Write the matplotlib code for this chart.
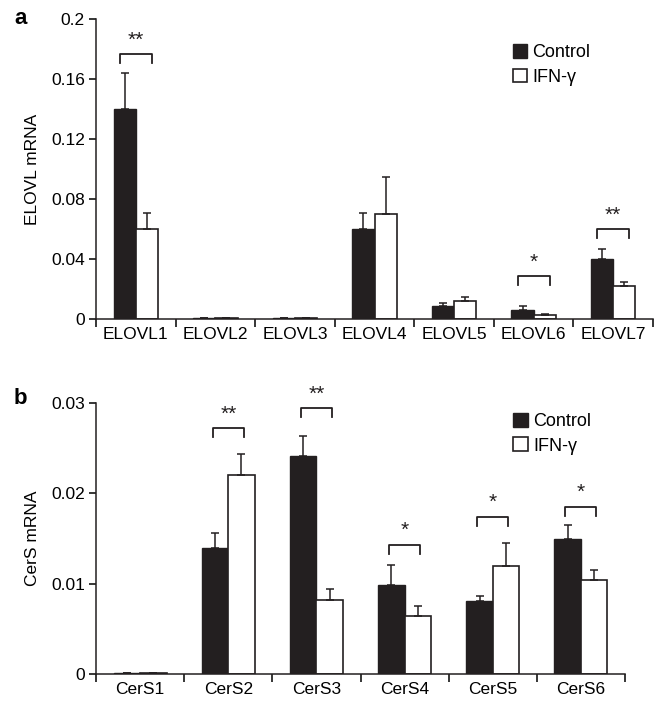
import numpy as np
import matplotlib
matplotlib.use("Agg")
import matplotlib.pyplot as plt
from matplotlib.patches import Patch

plt.rcParams["font.family"] = ["Liberation Sans", "DejaVu Sans"]

# panel a
elovl_genes = ["ELOVL1", "ELOVL2", "ELOVL3", "ELOVL4", "ELOVL5", "ELOVL6", "ELOVL7"]
elovl_ctrl = [0.140, 0.0006, 0.0006, 0.060, 0.009, 0.006, 0.040]
elovl_ctrl_err = [0.024, 0.0, 0.0, 0.011, 0.002, 0.0027, 0.007]
elovl_ifn = [0.060, 0.0006, 0.0006, 0.070, 0.012, 0.003, 0.022]
elovl_ifn_err = [0.011, 0.0, 0.0, 0.025, 0.0027, 0.0005, 0.0027]
# (category index, bracket height, stars)
elovl_sig = [(0, 0.1767, "**"), (5, 0.0287, "*"), (6, 0.060, "**")]

# panel b
cers_genes = ["CerS1", "CerS2", "CerS3", "CerS4", "CerS5", "CerS6"]
cers_ctrl = [0.0001, 0.0140, 0.0241, 0.0099, 0.0081, 0.0150]
cers_ctrl_err = [0.0, 0.0016, 0.0022, 0.0022, 0.0005, 0.0015]
cers_ifn = [0.0001, 0.0220, 0.0082, 0.0064, 0.0120, 0.0104]
cers_ifn_err = [0.0, 0.0024, 0.0012, 0.0011, 0.0025, 0.0011]
cers_sig = [(1, 0.0272, "**"), (2, 0.0294, "**"), (3, 0.0143, "*"),
            (4, 0.0174, "*"), (5, 0.0185, "*")]

dark = "#231f20"


def panel(ax, genes, ctrl, ctrl_err, ifn, ifn_err, sig, ymax, yticks, yticklabels,
          ylabel, width, bw, tick_h, star_off, leg_x, leg_y):
    x = np.arange(len(genes)) + 0.5
    zeros = np.zeros(len(genes))
    ekw = dict(ecolor=dark, elinewidth=1.1, capsize=2.8, capthick=1.1)
    ax.bar(x - width / 2, ctrl, width, color=dark, edgecolor=dark, linewidth=1,
           yerr=[zeros, ctrl_err], error_kw=ekw, label="Control", zorder=2)
    ax.bar(x + width / 2, ifn, width, color="white", edgecolor=dark, linewidth=1.2,
           yerr=[zeros, ifn_err], error_kw=ekw, label="IFN-\u03b3", zorder=2)

    for i, h, s in sig:
        cx = x[i]
        ax.plot([cx - bw / 2, cx - bw / 2, cx + bw / 2, cx + bw / 2],
                [h - tick_h, h, h, h - tick_h], color=dark, lw=1.3, clip_on=False)
        ax.text(cx, h + star_off, s, ha="center", va="center", fontsize=15, color=dark)

    ax.set_xlim(0, len(genes))
    ax.set_ylim(0, ymax)
    ax.set_xticks(np.arange(len(genes) + 1))
    ax.set_xticklabels([])
    ax.set_xticks(x, minor=True)
    ax.set_xticklabels(genes, minor=True, fontsize=12.5)
    ax.tick_params(axis="x", which="major", direction="out", length=6, width=1.1)
    ax.tick_params(axis="x", which="minor", length=0, pad=6)
    ax.set_yticks(yticks)
    ax.set_yticklabels(yticklabels, fontsize=12.5)
    ax.tick_params(axis="y", direction="out", length=5, width=1.1, pad=3)
    ax.set_ylabel(ylabel, fontsize=12.5, labelpad=8)
    for side in ["top", "right"]:
        ax.spines[side].set_visible(False)
    for side in ["left", "bottom"]:
        ax.spines[side].set_linewidth(1.1)
        ax.spines[side].set_color(dark)

    handles = [Patch(facecolor=dark, edgecolor=dark),
               Patch(facecolor="white", edgecolor=dark, linewidth=1.2)]
    ax.legend(handles, ["Control", "IFN-\u03b3"], loc="upper left",
              bbox_to_anchor=(leg_x, leg_y), frameon=False, fontsize=13,
              handlelength=0.8, handleheight=0.8, handletextpad=0.3,
              labelspacing=0.4, borderaxespad=0)


fig = plt.figure(figsize=(6.63, 7.05), dpi=100)
ax1 = fig.add_axes([96 / 663, 1 - 319 / 705, 557 / 663, 300 / 705])
ax2 = fig.add_axes([96 / 663, 1 - 674 / 705, 529 / 663, 271 / 705])

panel(ax1, elovl_genes, elovl_ctrl, elovl_ctrl_err, elovl_ifn, elovl_ifn_err, elovl_sig,
      0.2, [0, 0.04, 0.08, 0.12, 0.16, 0.2], ["0", "0.04", "0.08", "0.12", "0.16", "0.2"],
      "ELOVL mRNA", 0.28, 0.4, 0.006, 0.009, 0.735, 0.94)
panel(ax2, cers_genes, cers_ctrl, cers_ctrl_err, cers_ifn, cers_ifn_err, cers_sig,
      0.03, [0, 0.01, 0.02, 0.03], ["0", "0.01", "0.02", "0.03"],
      "CerS mRNA", 0.3, 0.35, 0.001, 0.0016, 0.775, 0.99)

fig.text(14 / 663, 1 - 18 / 705, "a", fontsize=16, fontweight="bold", va="center")
fig.text(14 / 663, 1 - 399 / 705, "b", fontsize=16, fontweight="bold", va="center")

fig.savefig("out.png", dpi=100)
